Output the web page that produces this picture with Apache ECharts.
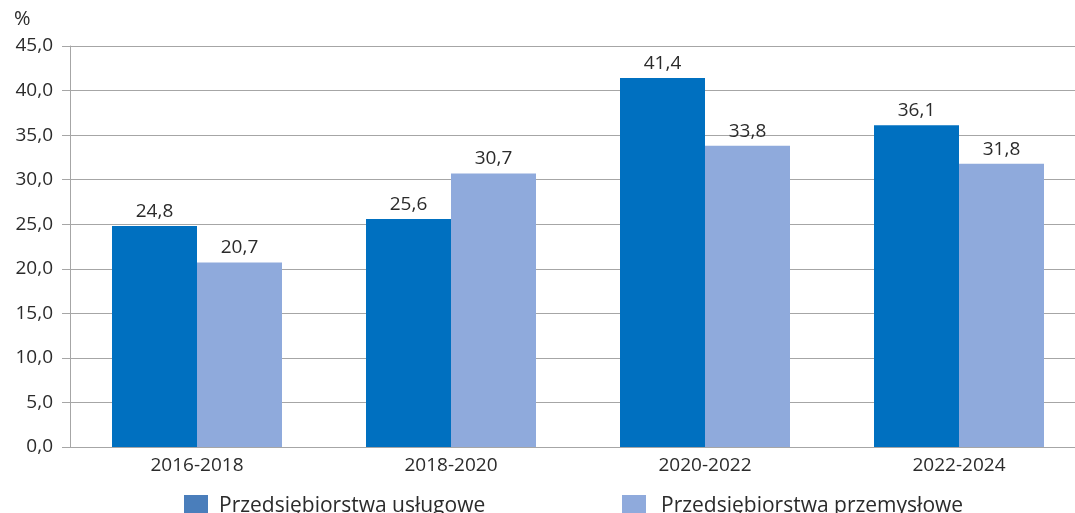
<!DOCTYPE html>
<html><head><meta charset="utf-8">
<script src="https://cdn.jsdelivr.net/npm/echarts@6/dist/echarts.min.js"></script>
<style>html,body{margin:0;padding:0;background:#fff;overflow:hidden;width:1075px;height:513px}#c{width:1090px;height:513px}</style>
</head><body><div id="c"></div>
<script>
const categories = ['2016-2018', '2018-2020', '2020-2022', '2022-2024'];
const uslugowe = [24.8, 25.6, 41.4, 36.1];
const przemyslowe = [20.7, 30.7, 33.8, 31.8];
const seriesNames = ['Przedsiębiorstwa usługowe', 'Przedsiębiorstwa przemysłowe'];
const yTicks = [0, 5, 10, 15, 20, 25, 30, 35, 40, 45];

const fmt = v => v.toFixed(1).replace('.', ',');
const font = '"Open Sans", "Noto Sans", sans-serif';
const txt = '#2b2b2b';
const chart = echarts.init(document.getElementById('c'), null, {renderer: 'canvas'});
chart.setOption({
  animation: false,
  textStyle: {fontFamily: font},
  title: {text: '%', left: 9, top: 4, textStyle: {fontSize: 20, fontWeight: 'normal', color: txt, fontFamily: font}},
  legend: [
    {data: [{name: seriesNames[0], itemStyle: {color: '#4A7EBB'}}], left: 179, top: 490, itemWidth: 24, itemHeight: 22, itemGap: 0,
     textStyle: {fontSize: 21, color: txt, fontFamily: font, padding: [0, 0, 0, 6]}, icon: 'rect'},
    {data: [{name: seriesNames[1]}], left: 617, top: 490, itemWidth: 24, itemHeight: 22,
     textStyle: {fontSize: 21, color: txt, fontFamily: font, padding: [0, 0, 0, 10]}, icon: 'rect'}
  ],
  grid: {left: 70, width: 1016, top: 46, bottom: 66, containLabel: false},
  xAxis: {
    type: 'category', data: categories,
    axisLine: {lineStyle: {color: '#A6A6A6', width: 1}},
    axisTick: {show: false},
    axisLabel: {fontSize: 19, color: txt, margin: 9, fontFamily: font}
  },
  yAxis: {
    type: 'value', min: yTicks[0], max: yTicks[yTicks.length - 1], interval: 5,
    axisLine: {show: true, lineStyle: {color: '#A6A6A6'}},
    axisTick: {show: true, length: 8, inside: false, lineStyle: {color: '#A6A6A6'}},
    splitLine: {lineStyle: {color: '#A6A6A6', width: 1}},
    axisLabel: {fontSize: 19, color: txt, margin: 17, formatter: fmt, fontFamily: font}
  },
  series: [
    {name: seriesNames[0], type: 'bar', data: uslugowe, barWidth: 85, barGap: '0%',
     itemStyle: {color: '#0070C0'},
     label: {show: true, position: 'top', distance: 5, fontSize: 19, color: txt, formatter: p => fmt(p.value), fontFamily: font}},
    {name: seriesNames[1], type: 'bar', data: przemyslowe, barWidth: 85, barGap: '0%',
     itemStyle: {color: '#8FAADC'},
     label: {show: true, position: 'top', distance: 5, fontSize: 19, color: txt, formatter: p => fmt(p.value), fontFamily: font}}
  ]
});
</script></body></html>
